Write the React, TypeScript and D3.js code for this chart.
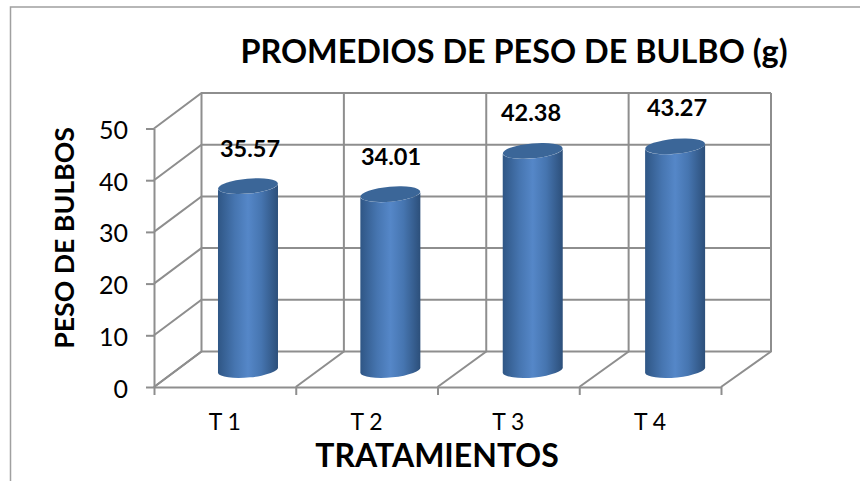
import React, { useEffect, useRef } from "react";
import * as d3 from "d3";

const categories = ["T 1", "T 2", "T 3", "T 4"];
const values = [35.57, 34.01, 42.38, 43.27];
const yTicks = [0, 10, 20, 30, 40, 50];
// the labels were dragged by hand in the original, so they don't sit on a fixed gap
const labelX = [250, 391, 531, 677];
const labelY = [149, 157, 113, 108];

const titleText = "PROMEDIOS DE PESO DE BULBO (g)";
const xTitle = "TRATAMIENTOS";
const yTitle = "PESO DE BULBOS";

const width = 860;
const height = 481;
const font = "Lato, 'Noto Sans', sans-serif";
const gridColor = "#8e8e8e";

// front plane of the 3d box and the back wall (slightly wider, perspective)
const x0 = 154;
const x1 = 721;
const backX0 = 201.5;
const backX1 = 771;
const y0 = 387;
const y50 = 128.5;
const depthY = -35.5;

export default function App() {
  const ref = useRef<SVGSVGElement>(null);

  useEffect(() => {
    const svg = d3.select(ref.current);
    svg.selectAll("*").remove();

    const y = d3.scaleLinear().domain([0, 50]).range([y0, y50]);
    const band = d3.scaleBand().domain(categories).range([x0, x1]);
    const edges = d3.scaleLinear().domain([0, categories.length]).range([x0, x1]);
    const backEdges = d3.scaleLinear().domain([0, categories.length]).range([backX0, backX1]);
    const edgeIdx = d3.range(categories.length + 1);

    const defs = svg.append("defs");
    const grad = defs.append("linearGradient").attr("id", "cyl").attr("x1", 0).attr("x2", 1).attr("y1", 0).attr("y2", 0);
    grad.append("stop").attr("offset", "0%").attr("stop-color", "#2f5685");
    grad.append("stop").attr("offset", "28%").attr("stop-color", "#4675b0");
    grad.append("stop").attr("offset", "50%").attr("stop-color", "#5587c8");
    grad.append("stop").attr("offset", "72%").attr("stop-color", "#4675b0");
    grad.append("stop").attr("offset", "100%").attr("stop-color", "#2c4f7a");

    // chart frame, only top and left are visible in the crop
    svg.append("path")
      .attr("d", `M10.5,${height}V7H${width}`)
      .attr("fill", "none")
      .attr("stroke", "#a0a0a0")
      .attr("stroke-width", 1.5);

    const grid = svg.append("g").attr("fill", "none").attr("stroke", gridColor).attr("stroke-width", 2);
    // back wall horizontals + left wall slants
    yTicks.forEach((t) => {
      grid.append("path").attr("d", `M${x0},${y(t)}L${backX0},${y(t) + depthY}H${backX1}`);
    });
    // back wall verticals + floor slants
    edgeIdx.forEach((i) => {
      grid.append("path").attr("d", `M${edges(i)},${y0}L${backEdges(i)},${y0 + depthY}V${y(50) + depthY}`);
    });

    // axes
    const yAxis = svg.append("g")
      .attr("transform", `translate(${x0},0)`)
      .call(d3.axisLeft(y).tickValues(yTicks).tickSize(8).tickSizeOuter(0).tickPadding(18));
    const xEdge = svg.append("g")
      .attr("transform", `translate(0,${y0})`)
      .call(d3.axisBottom(edges).tickValues(edgeIdx).tickSize(8).tickSizeOuter(0).tickFormat(() => ""));
    const xAxis = svg.append("g")
      .attr("transform", `translate(0,${y0})`)
      .call(d3.axisBottom(band).tickSize(0).tickPadding(27));
    [yAxis, xEdge, xAxis].forEach((a) => {
      a.selectAll("path,line").attr("stroke", gridColor).attr("stroke-width", 2);
      a.selectAll("text").attr("fill", "#000").attr("font-family", font);
    });
    xAxis.select(".domain").remove();
    yAxis.selectAll("text").attr("font-size", 25).attr("dy", "0.4em");
    xAxis.selectAll("text").attr("font-size", 23);

    // cylinders, tilted ellipse caps like the excel 3d renderer
    const rx = 30;
    const ry = 7.5;
    const tilt = -5;
    const baseY = y0 - 17;
    const skew = 3;
    const cx = (i: number) => (backEdges(i) + backEdges(i + 1)) / 2 - 24.7;
    const topY = (v: number) => baseY - (y0 - y(v));

    const bars = svg.append("g").selectAll("g").data(values).join("g");
    bars.append("path")
      .attr("fill", "url(#cyl)")
      .attr("d", (v, i) => {
        const xc = cx(i);
        const t = topY(v);
        return `M${xc - rx},${t + skew}V${baseY + skew}` +
          `A${rx},${ry} ${tilt} 0 0 ${xc + rx},${baseY - skew}` +
          `V${t - skew}A${rx},${ry} ${tilt} 0 1 ${xc - rx},${t + skew}Z`;
      });
    bars.append("ellipse")
      .attr("fill", "#3b6698")
      .attr("rx", rx)
      .attr("ry", ry)
      .attr("transform", (v, i) => `translate(${cx(i)},${topY(v)}) rotate(${tilt})`);

    svg.append("g").selectAll("text").data(values).join("text")
      .attr("x", (_, i) => labelX[i])
      .attr("y", (_, i) => labelY[i])
      .attr("dy", "0.35em")
      .attr("text-anchor", "middle")
      .attr("font-family", font)
      .attr("font-weight", 700)
      .attr("font-size", 23.5)
      .text((d) => d3.format(".2f")(d));

    svg.append("text")
      .attr("x", 514)
      .attr("y", 62.5)
      .attr("text-anchor", "middle")
      .attr("font-family", font)
      .attr("font-weight", 700)
      .attr("font-size", 32.4)
      .text(titleText);
    svg.append("text")
      .attr("x", 437)
      .attr("y", 466.5)
      .attr("text-anchor", "middle")
      .attr("font-family", font)
      .attr("font-weight", 700)
      .attr("font-size", 32)
      .text(xTitle);
    svg.append("text")
      .attr("transform", "translate(73.5,238) rotate(-90)")
      .attr("text-anchor", "middle")
      .attr("font-family", font)
      .attr("font-weight", 700)
      .attr("font-size", 26.7)
      .text(yTitle);
  }, []);

  return (
    <svg
      ref={ref}
      width={width}
      height={height}
      style={{ position: "absolute", left: 0, top: 0, background: "#fff" }}
    />
  );
}
